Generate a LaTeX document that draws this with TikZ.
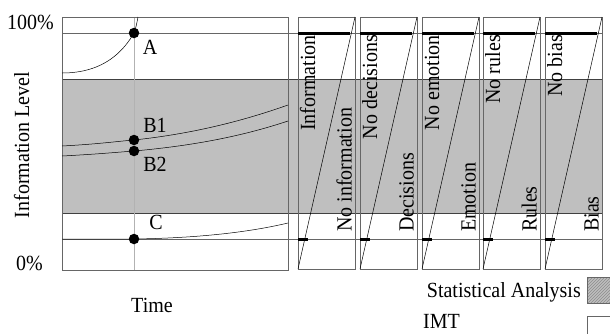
\documentclass[tikz,border=0pt]{standalone}
\usepackage{graphicx}
\usepackage{fontspec}
\setmainfont{Liberation Serif}
\usetikzlibrary{patterns}
\newcommand{\tallt}[1]{\scalebox{1}[1.08]{#1}}
\begin{document}
\begin{tikzpicture}[x=1pt,y=-1pt,
  font=\fontsize{20}{23}\selectfont,
  frame/.style={draw=black!60, line width=0.6pt},
  level/.style={draw=black!60, line width=0.5pt},
  edge/.style={draw=black!75, line width=0.6pt},
  thinline/.style={draw=black, line width=0.5pt},
  barline/.style={draw=black, line width=3pt},
  dot/.style={circle, fill=black, inner sep=0pt, minimum size=10.5pt},
  lbl/.style={inner sep=0pt}]
\useasboundingbox (0,0) rectangle (610,333);
\fill[white] (0,0) rectangle (610,333);
% grey band
\fill[black!25] (62,79) rectangle (602,213);
\draw[edge] (62,79) -- (602,79);
\draw[edge] (62,213) -- (602,213);
% time marker
\draw[black!30, line width=0.5pt] (134,17) -- (134,270);
% level lines
\draw[level] (62,33) -- (602,33);
\draw[level] (62,239) -- (602,239);
% main box
\draw[frame] (62,17) rectangle (288,270);
% panels
\foreach \x/\t/\b [count=\i] in {298/Information/No information, 360/No decisions/Decisions, 422/No emotion/Emotion, 483/No rules/Rules, 545/No bias/Bias} {
  \draw[frame] (\x,17) rectangle ++(57,252);
  \draw[thinline] (\x,269) -- ++(57,-252);
  \draw[barline] (\x,33) -- ++(52,0);
  \draw[barline] (\x,239) -- ++(10,0);
  \node[lbl, rotate=90, anchor=base east] (top\i) at (\x+17,35) {\tallt{\t}};
  \node[lbl, rotate=90, anchor=base west] (bot\i) at (\x+53.5,232) {\tallt{\b}};
}
% curves
\draw[thinline] (62,73) .. controls (105,73) and (124,50) .. (134,33)
  .. controls (136,28) and (137,22) .. (138,17);
\draw[thinline] (62,146) .. controls (100,144) and (120,141) .. (134,140)
  .. controls (190,134) and (240,122) .. (288,105);
\draw[thinline] (62,156) .. controls (100,154) and (120,152) .. (134,151)
  .. controls (190,146) and (240,137) .. (288,121);
\draw[thinline] (62,239) -- (134,239) .. controls (200,238) and (250,232) .. (288,223);
% dots
\node[dot] (A) at (134,33) {};
\node[dot] (B1) at (134,140) {};
\node[dot] (B2) at (134,151) {};
\node[dot] (C) at (134,239) {};
\node[lbl] (lA) at (150,47) {\tallt{A}};
\node[lbl] (lB1) at (155,125) {\tallt{B1}};
\node[lbl] (lB2) at (155,164) {\tallt{B2}};
\node[lbl] (lC) at (156,222) {\tallt{C}};
% axes labels
\node[lbl, anchor=east] (p100) at (54,22) {\tallt{100\%}};
\node[lbl, anchor=east] (p0) at (43,263) {\tallt{0\%}};
\node[lbl, rotate=90, anchor=base] (ylab) at (29,145) {\tallt{Information Level}};
\node[lbl] (xlab) at (152,305) {\tallt{Time}};
% legend
\node[lbl, anchor=east] (lsa) at (581,292) {\tallt{Statistical Analysis}};
\node[lbl, anchor=west] (limt) at (423,321) {\tallt{IMT}};
\fill[black!25] (587,277) rectangle (612,303);
\fill[pattern=north east lines, pattern color=black!45] (587,277) rectangle (612,303);
\draw[frame] (587,277) rectangle (612,303);
\draw[frame] (587,316) rectangle (612,340);
\end{tikzpicture}
\end{document}
